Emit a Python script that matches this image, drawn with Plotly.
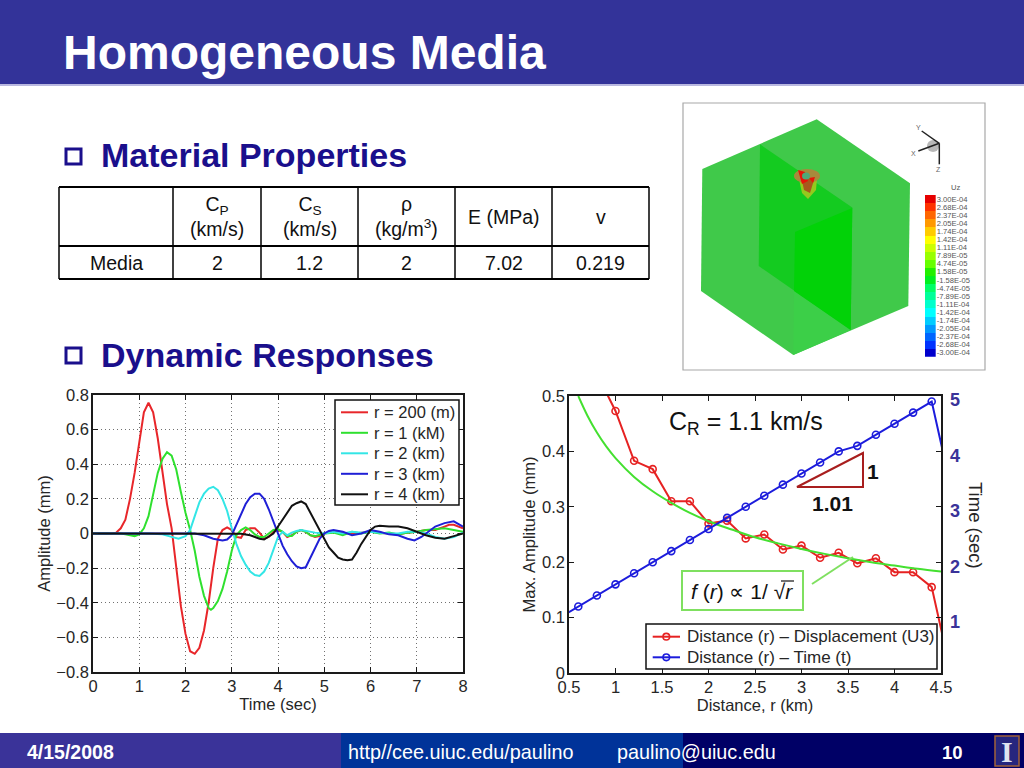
import plotly.graph_objects as go

W, H = 1024, 768
FONT = "Liberation Sans"
INK = "#262626"
NAVY = "#1a0f8c"
SLIDE_BLUE = "#3a3399"

# ---------- left chart: waveforms ----------
t_200m = [0,.4,.5,.6,.7,.8,.9,1,1.1,1.2,1.3,1.4,1.5,1.6,1.7,1.8,1.9,2,2.1,2.2,2.3,2.4,2.5,2.6,2.7,2.8,2.9,3,3.1,3.2,3.3,3.4,3.5,3.6,3.7,3.8,3.9,4,4.1,4.2,4.3,4.4,4.5,4.6,4.7,4.8,4.9,5,5.2,5.4,5.6,5.8,6,6.2,6.4,6.6,6.8,7,7.2,7.4,7.6,7.7,7.8,7.9,8]
v_200m = [0,0,.005,.03,.08,.2,.35,.53,.7,.755,.7,.55,.35,.17,.03,-.2,-.42,-.58,-.68,-.695,-.66,-.56,-.4,-.2,-.03,.02,.035,.02,-.02,-.025,.02,.03,.03,.005,-.03,-.02,.01,.02,.01,-.02,-.01,.01,.02,.01,-.01,-.02,-.015,0,.01,.005,0,.005,.01,.005,0,-.005,.005,.01,.02,.02,.04,.05,.05,.04,.03]
t_1km = [0,.6,.7,.8,.9,1,1.1,1.2,1.3,1.4,1.5,1.6,1.7,1.8,1.9,2,2.1,2.2,2.3,2.4,2.5,2.55,2.6,2.7,2.8,2.9,3,3.1,3.2,3.3,3.4,3.5,3.6,3.7,3.8,3.9,4,4.1,4.2,4.3,4.4,4.5,4.6,4.7,4.8,5,5.2,5.4,5.6,5.8,6,6.2,6.4,6.6,6.8,7,7.2,7.4,7.6,7.8,8]
v_1km = [0,0,-.005,-.012,-.015,-.005,.03,.1,.22,.35,.43,.47,.45,.37,.24,.12,.02,-.1,-.25,-.36,-.43,-.44,-.43,-.39,-.32,-.22,-.1,-.01,.02,.035,.02,-.005,-.02,-.02,0,.02,.025,.01,-.015,-.015,.01,.02,.01,-.01,-.015,0,.005,-.01,.01,0,.01,0,.005,-.005,.005,.01,.02,.025,.03,.02,.01]
t_2km = [0,1.2,1.5,1.7,1.85,2,2.1,2.2,2.3,2.4,2.5,2.6,2.7,2.8,2.9,3,3.1,3.2,3.3,3.4,3.5,3.6,3.7,3.8,3.9,4,4.1,4.2,4.3,4.4,4.5,4.6,4.8,5,5.2,5.4,5.6,5.8,6,6.2,6.4,6.6,6.8,7,7.2,7.4,7.6,7.8,8]
v_2km = [0,0,-.005,-.02,-.03,-.015,.02,.1,.18,.23,.26,.27,.25,.2,.13,.03,-.06,-.13,-.18,-.22,-.24,-.245,-.22,-.17,-.1,-.02,.01,-.01,.005,.015,.02,.015,.005,0,.01,0,.01,.005,.01,.005,0,0,.01,.01,0,-.02,-.03,-.02,.005]
t_3km = [0,2.2,2.4,2.6,2.8,2.9,3,3.1,3.2,3.3,3.4,3.5,3.6,3.7,3.8,3.9,4,4.1,4.2,4.3,4.4,4.5,4.6,4.7,4.8,4.9,5,5.1,5.2,5.4,5.6,5.8,6,6.2,6.4,6.6,6.8,6.95,7.1,7.2,7.4,7.6,7.8,8]
v_3km = [0,0,-.01,-.03,-.04,-.035,-.01,.05,.12,.17,.21,.23,.23,.2,.14,.07,0,-.07,-.12,-.16,-.19,-.2,-.195,-.14,-.09,-.03,0,.015,.02,.01,-.01,0,.02,.01,-.005,-.01,-.03,-.04,-.02,0,.04,.06,.07,.04]
t_4km = [0,3,3.2,3.4,3.6,3.7,3.8,3.9,4,4.1,4.2,4.3,4.4,4.5,4.6,4.7,4.8,4.9,5,5.1,5.2,5.3,5.4,5.5,5.6,5.7,5.8,5.9,6,6.1,6.2,6.4,6.6,6.8,7,7.2,7.4,7.6,7.8,8]
v_4km = [0,0,-.002,-.01,-.03,-.035,-.02,0,.04,.08,.12,.16,.175,.185,.17,.12,.07,.02,-.03,-.08,-.11,-.14,-.15,-.155,-.15,-.11,-.06,-.02,.02,.04,.045,.04,.04,.03,.01,-.01,-.025,-.03,-.015,0]
wave_names = ["r = 200 (m)", "r = 1 (kM)", "r = 2 (km)", "r = 3 (km)", "r = 4 (km)"]
wave_colors = ["#e8262a", "#2fe02f", "#33e6e6", "#1f1fd6", "#111111"]

# ---------- right chart ----------
r_disp = [.8,1,1.2,1.4,1.6,1.8,2,2.2,2.4,2.6,2.8,3,3.2,3.4,3.6,3.8,4,4.2,4.4,4.6]
u3_disp = [.54,.473,.383,.368,.31,.31,.27,.275,.243,.25,.223,.23,.208,.217,.198,.207,.182,.182,.155,.005]
r_time = [.4,.6,.8,1,1.2,1.4,1.6,1.8,2,2.2,2.4,2.6,2.8,3,3.2,3.4,3.6,3.8,4,4.2,4.4,4.6]
t_time = [1.0,1.2,1.4,1.6,1.8,2,2.2,2.4,2.6,2.8,3,3.2,3.4,3.6,3.8,4,4.1,4.3,4.5,4.7,4.9,3.4]
r_fit = [.6,.7,.8,.9,1,1.2,1.4,1.6,1.8,2,2.25,2.5,2.75,3,3.25,3.5,3.75,4,4.25,4.5]
u_fit = [.5,.464,.434,.409,.388,.354,.328,.307,.289,.274,.259,.245,.234,.224,.215,.207,.2,.194,.188,.183]
right_names = ["Distance (r) – Displacement (U3)", "Distance (r) – Time (t)"]
right_colors = ["#e62222", "#1c1cdc"]

# ---------- colour bar of the contour picture ----------
uz_labels = ["3.00E-04","2.68E-04","2.37E-04","2.05E-04","1.74E-04","1.42E-04","1.11E-04","7.89E-05","4.74E-05","1.58E-05",
             "-1.58E-05","-4.74E-05","-7.89E-05","-1.11E-04","-1.42E-04","-1.74E-04","-2.05E-04","-2.37E-04","-2.68E-04","-3.00E-04"]
uz_colors = ["#e60000","#ff3300","#ff6600","#ff9900","#ffcc00","#ffff00","#ccff00","#99ff00","#66ff00","#22f000",
             "#00f020","#00ff66","#00ff99","#00ffcc","#00ffff","#00ccff","#0099ff","#0066ff","#0033ff","#0000cc"]

# ---------- table ----------
table_cols = ["", "C<sub>P</sub><br>(km/s)", "C<sub>S</sub><br>(km/s)", "ρ<br>(kg/m<sup>3</sup>)", "E (MPa)", "v"]
table_row = ["Media", "2", "1.2", "2", "7.02", "0.219"]
table_xs = [59, 173, 261, 358, 455, 552, 649]
table_ys = [187, 246, 279]


def px(x):
    return x / W


def py(y):
    return 1 - y / H


def rect(x0, y0, x1, y1, fill=None, line=None, lw=1, layer="above"):
    return dict(type="rect", xref="paper", yref="paper", x0=px(x0), x1=px(x1), y0=py(y0), y1=py(y1),
                fillcolor=fill or "rgba(0,0,0,0)", line=dict(color=line or "rgba(0,0,0,0)", width=lw if line else 0), layer=layer)


def seg(x0, y0, x1, y1, color, lw=1.5, layer="above"):
    return dict(type="line", xref="paper", yref="paper", x0=px(x0), x1=px(x1), y0=py(y0), y1=py(y1),
                line=dict(color=color, width=lw), layer=layer)


def poly(points, fill, layer="above", line=None, lw=0):
    path = "M " + " L ".join(f"{px(x):.5f},{py(y):.5f}" for x, y in points) + " Z"
    return dict(type="path", xref="paper", yref="paper", path=path, fillcolor=fill,
                line=dict(color=line or "rgba(0,0,0,0)", width=lw), layer=layer)


def oval(cx, cy, rx, ry, fill, line=None, lw=0):
    return dict(type="circle", xref="paper", yref="paper", x0=px(cx - rx), x1=px(cx + rx), y0=py(cy + ry), y1=py(cy - ry),
                fillcolor=fill, line=dict(color=line or "rgba(0,0,0,0)", width=lw))


def ann(text, x, y, size, color=INK, anchor="center", angle=0, family=FONT):
    return dict(text=text, x=px(x), y=py(y), xref="paper", yref="paper", showarrow=False,
                xanchor=anchor, yanchor="middle", align="center", textangle=angle,
                font=dict(family=family, size=size, color=color))


fig = go.Figure()

# waveforms
wave_t = [t_200m, t_1km, t_2km, t_3km, t_4km]
wave_v = [v_200m, v_1km, v_2km, v_3km, v_4km]
for name, color, tt, vv in zip(wave_names, wave_colors, wave_t, wave_v):
    fig.add_trace(go.Scatter(x=tt, y=vv, mode="lines", name=name, line=dict(color=color, width=2),
                             xaxis="x", yaxis="y"))

# amplitude and arrival time
fig.add_trace(go.Scatter(x=r_disp, y=u3_disp, mode="lines+markers", name=right_names[0],
                         line=dict(color=right_colors[0], width=2),
                         marker=dict(symbol="circle-open", size=7, color=right_colors[0], line=dict(width=1.6)),
                         xaxis="x2", yaxis="y2"))
fig.add_trace(go.Scatter(x=r_fit, y=u_fit, mode="lines", line=dict(color="#44e030", width=2, shape="spline"),
                         xaxis="x2", yaxis="y2"))
fig.add_trace(go.Scatter(x=r_time, y=t_time, mode="lines+markers", name=right_names[1],
                         line=dict(color=right_colors[1], width=2),
                         marker=dict(symbol="circle-open", size=7, color=right_colors[1], line=dict(width=1.6)),
                         xaxis="x2", yaxis="y3"))

# contour colour bar
uz_values = [float(s) for s in uz_labels]
lo, hi = min(uz_values), max(uz_values)
scale = sorted([[(v - lo) / (hi - lo), c] for v, c in zip(uz_values, uz_colors)])
fig.add_trace(go.Heatmap(z=[[v] for v in uz_values], y=uz_labels, x=["Uz"], colorscale=scale, showscale=False,
                         xaxis="x3", yaxis="y4", xgap=0, ygap=0, hoverinfo="skip"))

axis_common = dict(showline=True, linecolor="#1a1a1a", linewidth=1.5, ticks="inside", ticklen=5, tickcolor="#1a1a1a",
                   tickwidth=1, zeroline=False, tickfont=dict(family=FONT, size=16.5, color=INK))
title_font = dict(family=FONT, size=16.5, color=INK)

fig.update_layout(
    width=W, height=H, autosize=False, margin=dict(l=0, r=0, t=0, b=0, pad=0, autoexpand=False), showlegend=False,
    paper_bgcolor="white", plot_bgcolor="rgba(0,0,0,0)", font=dict(family=FONT),
    xaxis=dict(domain=[px(93), px(463)], range=[0, 8], dtick=1, anchor="y", mirror="ticks", showgrid=True, griddash="1px,3px",
               gridcolor="#707070", gridwidth=1, ticklabelstandoff=-2,
               title=dict(text="Time (sec)", font=title_font, standoff=0), **axis_common),
    yaxis=dict(domain=[py(672), py(395)], range=[-.8, .8], dtick=.2, anchor="x", mirror="ticks", showgrid=True, griddash="1px,3px",
               gridcolor="#707070", gridwidth=1, tickformat=".1~f", ticklabelstandoff=-1,
               title=dict(text="Amplitude (mm)", font=title_font, standoff=2), **axis_common),
    xaxis2=dict(domain=[px(569), px(941)], range=[.5, 4.5], dtick=.5, anchor="y2", mirror="ticks", showgrid=False,
                tickformat=".1~f", ticklabelstandoff=-2,
                title=dict(text="Distance, r (km)", font=title_font, standoff=0), **axis_common),
    yaxis2=dict(domain=[py(673), py(396)], range=[0, .5], dtick=.1, anchor="x2", mirror=True, showgrid=False,
                tickformat=".1~f", ticklabelstandoff=-1,
                title=dict(text="Max. Amplitude (mm)", font=title_font, standoff=2), **axis_common),
    yaxis3=dict(domain=[py(673), py(396)], range=[0, 5], tickvals=[1, 2, 3, 4, 5], anchor="x2", overlaying="y2", side="right",
                showgrid=False, showline=False, ticks="inside", ticklen=5, tickcolor="#1a1a1a", zeroline=False,
                ticklabelshift=4, ticklabelstandoff=8,
                tickfont=dict(family=FONT, size=18, color="#3a3399", weight="bold")),
    xaxis3=dict(domain=[px(925), px(935.7)], anchor="y4", visible=False, type="category"),
    yaxis4=dict(domain=[py(356.7), py(195)], anchor="x3", side="right", type="category", autorange="reversed",
                tickmode="array", tickvals=uz_labels, ticktext=uz_labels, ticks="", showline=False, showgrid=False,
                ticklabelposition="outside", tickfont=dict(family=FONT, size=7.6, color="#555555")),
)

BAND = "#333399"
shapes = [
    rect(0, 0, W, 84, fill=BAND, layer="below"),
    rect(0, 84, W, 86, fill="#b9b8e0", layer="below"),
    rect(0, 733, 341, H, fill=SLIDE_BLUE, layer="below"),
    rect(341, 733, 683, H, fill="#003399", layer="below"),
    rect(683, 733, W, H, fill="#000066", layer="below"),
    rect(995, 736, 1019, 766, fill="#26267e", line="#a0623a", lw=1.5, layer="below"),
    rect(66, 149, 81, 164, line=NAVY, lw=3),
    rect(66, 348, 81, 363, line=NAVY, lw=3),
]
# table rules
for x in table_xs:
    shapes.append(seg(x, table_ys[0], x, table_ys[-1], "#000000", 1.5))
for y in table_ys:
    shapes.append(seg(table_xs[0], y, table_xs[-1], y, "#000000", 2))

# 3-D contour picture
shapes += [
    rect(683, 103, 985, 370, fill="white", line="#a8a8a8", lw=1.2, layer="below"),
    poly([(816.7, 119.3), (910, 183.3), (908.3, 306), (793.3, 355), (701, 291), (702.3, 169)], "#40c94a", layer="below"),
    poly([(794, 291), (850.7, 330), (793.3, 355)], "#3ccf48", layer="below"),
    poly([(760, 144.3), (852.3, 207.5), (850.7, 330), (758.7, 266)], "#14cb20", layer="below"),
    poly([(795, 232), (852.3, 208), (850.7, 330), (794, 291)], "#02d208", layer="below"),
    poly([(799, 179), (817, 179), (816, 190), (808, 199), (802, 193)], "#96c81e"),
    oval(807, 176, 13, 7, "#a88a3c"),
    poly([(801, 176), (814, 180), (810, 193), (804, 190)], "#a8581c"),
    poly([(798, 170), (805, 172), (808, 181), (802, 184)], "#e81408"),
    poly([(809, 178), (815, 177), (813, 183)], "#e81408"),
    oval(806, 176, 4, 3.5, "#4fa878"),
    oval(933, 146, 6, 6, "#b8b8b8"),
    seg(939.3, 143.3, 921.7, 131, "#222222", 1.5),
    seg(939.3, 143.3, 918.3, 151, "#222222", 1.5),
    seg(939.3, 143.3, 939.3, 164.3, "#222222", 1.5),
]
# inset marks on right chart
shapes += [
    poly([(797, 487), (863, 487), (863, 453)], "rgba(0,0,0,0)", line="#a81e1e", lw=2),
    rect(682, 571, 803, 610, fill="white", line="#7fe060", lw=2),
    seg(812, 584, 853, 557, "#7fe060", 2),
    seg(781, 581, 794, 581, "#111111", 1.2),
]

anns = [
    ann("<b>Homogeneous Media</b>", 304.5, 53, 48, "white"),
    ann("<b>Material Properties</b>", 98.5, 155, 34, NAVY, "left"),
    ann("<b>Dynamic Responses</b>", 98.5, 355, 34, NAVY, "left"),
    ann("<b>4/15/2008</b>", 70, 752, 19.5, "white"),
    ann("http//cee.uiuc.edu/paulino", 460, 752, 19.8, "white"),
    ann("paulino@uiuc.edu", 696.5, 752, 19.8, "white"),
    ann("<b>10</b>", 952, 752, 18.5, "white"),
    ann("<b>I</b>", 1007, 751, 30, "#dfe3f0", family="Liberation Serif"),
    ann("C<sub>R</sub> = 1.1 km/s", 746, 423, 25, "#111111"),
    ann("<b>1</b>", 873, 471, 21, "#111111"),
    ann("<b>1.01</b>", 832, 503, 21, "#111111"),
    ann("<i>f</i> (<i>r</i>) ∝ 1/ √<i>r</i>", 742, 591, 21, "#111111"),
    ann("Time (sec)", 976, 525, 18.5, INK, angle=90),
    ann("Uz", 955, 188, 7.6, "#555555"),
    ann("Y", 918, 128, 7, "#666666"),
    ann("X", 913, 153, 7, "#666666"),
    ann("Z", 938, 170, 7, "#666666"),
]
cy_head = (table_ys[0] + table_ys[1]) / 2
cy_row = (table_ys[1] + table_ys[2]) / 2
for i in range(len(table_cols)):
    cx = (table_xs[i] + table_xs[i + 1]) / 2
    if table_cols[i]:
        anns.append(ann(table_cols[i], cx, cy_head, 19.5, "#111111"))
    anns.append(ann(table_row[i], cx, cy_row, 19.5, "#111111"))

# legend boxes, laid out to the tight MATLAB row spacing
shapes.append(rect(335, 400, 459, 505, fill="white", line="#111111", lw=1.5))
for i, (name, color) in enumerate(zip(wave_names, wave_colors)):
    y = 412.3 + i * 20.5
    shapes.append(seg(341, y, 368, y, color, 2))
    anns.append(ann(name, 372, y, 16.5, INK, "left"))
shapes.append(rect(646, 624, 937, 669, fill="white", line="#111111", lw=1.5))
for i, (name, color) in enumerate(zip(right_names, right_colors)):
    y = 636.7 + i * 20.6
    shapes.append(seg(652.7, y, 680, y, color, 2))
    shapes.append(oval(666.3, y, 3.3, 3.3, "rgba(0,0,0,0)", color, 1.6))
    anns.append(ann(name, 685, y, 17, INK, "left"))

fig.update_layout(shapes=shapes, annotations=anns)

fig.write_html("out.html", config=dict(displayModeBar=False),
               post_script="document.body.style.margin='0';document.documentElement.style.overflow='hidden';")
